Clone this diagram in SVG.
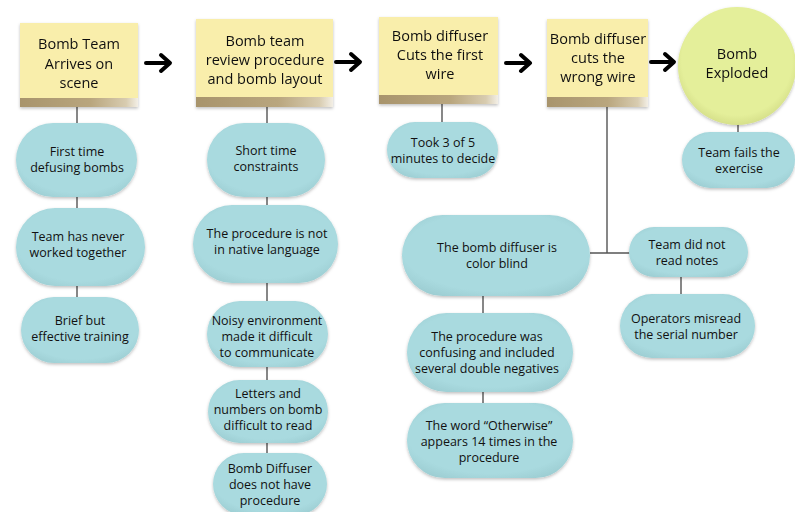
<svg xmlns="http://www.w3.org/2000/svg" width="795" height="512" viewBox="0 0 795 512">
  <defs>
    <linearGradient id="band" x1="0" y1="0" x2="1" y2="0">
      <stop offset="0" stop-color="#a8946c"/>
      <stop offset="0.6" stop-color="#b9a67e"/>
      <stop offset="0.9" stop-color="#d8ccb0"/>
      <stop offset="1" stop-color="#f3efe6"/>
    </linearGradient>
    <radialGradient id="pillShade" cx="0.5" cy="0.45" r="0.7">
      <stop offset="0.7" stop-color="#a9dadf"/>
      <stop offset="1" stop-color="#96c7cc"/>
    </radialGradient>
    <radialGradient id="circleShade" cx="0.5" cy="0.45" r="0.55">
      <stop offset="0.85" stop-color="#e4ef9a"/>
      <stop offset="1" stop-color="#d6e08a"/>
    </radialGradient>
    <filter id="shadow" x="-10%" y="-10%" width="120%" height="130%">
      <feDropShadow dx="0" dy="1.5" stdDeviation="1.5" flood-color="#000" flood-opacity="0.25"/>
    </filter>
  </defs>
  <style>
    .note { fill: #f9eeab; }
    .band { fill: url(#band); }
    .pill { fill: url(#pillShade); filter: url(#shadow); }
    .link { stroke: #555; stroke-width: 1.4; fill: none; }
    .arrow { stroke: #000; stroke-width: 4; fill: none; stroke-linecap: round; stroke-linejoin: round; }
    text { font-family: "Open Sans", "Liberation Sans", sans-serif; fill: #111; text-anchor: middle; }
    .nt { font-size: 14.5px; }
    .pt { font-size: 12.5px; }
  </style>

  <rect width="795" height="512" fill="#fff"/>

  <!-- connectors -->
  <g id="connectors">
    <path class="link" d="M77 107 V123 M77 197 V208 M77 286 V297"/>
    <path class="link" d="M267 107 V123 M267 197 V205 M267 283 V301 M267 367 V380 M267 443 V453"/>
    <path class="link" d="M442 104 V122"/>
    <path class="link" d="M607 107 V253 M590 253 H630 M681 277 V294 M483 296 V313 M483 392 V403"/>
    <path class="link" d="M738 124 V132"/>
    <path class="arrow" d="M146 63 H169 M161 55 L170 63 L161 71"/>
    <path class="arrow" d="M336 62 H359 M351 54 L360 62 L351 70"/>
    <path class="arrow" d="M506 63 H529 M521 55 L530 63 L521 71"/>
    <path class="arrow" d="M651 62 H673 M665 54 L674 62 L665 70"/>
  </g>

  <!-- step notes -->
  <g id="step1" filter="url(#shadow)">
    <rect class="note" x="20" y="23" width="118" height="84"/>
    <rect class="band" x="20" y="98" width="118" height="9"/>
    <text class="nt" x="79" y="49">Bomb Team</text>
    <text class="nt" x="79" y="69">Arrives on</text>
    <text class="nt" x="79" y="88">scene</text>
  </g>
  <g id="step2" filter="url(#shadow)">
    <rect class="note" x="196" y="19" width="137" height="88"/>
    <rect class="band" x="196" y="97" width="137" height="10"/>
    <text class="nt" x="265" y="46">Bomb team</text>
    <text class="nt" x="265" y="65">review procedure</text>
    <text class="nt" x="265" y="84">and bomb layout</text>
  </g>
  <g id="step3" filter="url(#shadow)">
    <rect class="note" x="379" y="17" width="119" height="87"/>
    <rect class="band" x="379" y="95" width="119" height="9"/>
    <text class="nt" x="440" y="41">Bomb diffuser</text>
    <text class="nt" x="440" y="60">Cuts the first</text>
    <text class="nt" x="440" y="79">wire</text>
  </g>
  <g id="step4" filter="url(#shadow)">
    <rect class="note" x="547" y="19" width="101" height="88"/>
    <rect class="band" x="547" y="97" width="101" height="10"/>
    <text class="nt" x="598" y="44">Bomb diffuser</text>
    <text class="nt" x="598" y="63">cuts the</text>
    <text class="nt" x="598" y="82">wrong wire</text>
  </g>
  <g id="outcome" filter="url(#shadow)">
    <circle cx="737" cy="66" r="59" fill="url(#circleShade)"/>
    <text class="nt" x="737" y="59">Bomb</text>
    <text class="nt" x="737" y="78">Exploded</text>
  </g>

  <!-- causes: step 1 -->
  <g id="c1a">
    <rect class="pill" x="16" y="123" width="121" height="74" rx="37"/>
    <text class="pt" x="77" y="156">First time</text>
    <text class="pt" x="77" y="172">defusing bombs</text>
  </g>
  <g id="c1b">
    <rect class="pill" x="16" y="208" width="129" height="78" rx="39"/>
    <text class="pt" x="78" y="241">Team has never</text>
    <text class="pt" x="78" y="257">worked together</text>
  </g>
  <g id="c1c">
    <rect class="pill" x="21" y="297" width="118" height="66" rx="33"/>
    <text class="pt" x="80" y="325">Brief but</text>
    <text class="pt" x="80" y="341">effective training</text>
  </g>

  <!-- causes: step 2 -->
  <g id="c2a">
    <rect class="pill" x="207" y="123" width="118" height="74" rx="37"/>
    <text class="pt" x="266" y="155">Short time</text>
    <text class="pt" x="266" y="171">constraints</text>
  </g>
  <g id="c2b">
    <rect class="pill" x="193" y="205" width="145" height="78" rx="39"/>
    <text class="pt" x="267" y="238">The procedure is not</text>
    <text class="pt" x="267" y="254">in native language</text>
  </g>
  <g id="c2c">
    <rect class="pill" x="207" y="301" width="121" height="66" rx="33"/>
    <text class="pt" x="267" y="325">Noisy environment</text>
    <text class="pt" x="267" y="341">made it difficult</text>
    <text class="pt" x="267" y="357">to communicate</text>
  </g>
  <g id="c2d">
    <rect class="pill" x="208" y="380" width="120" height="63" rx="31.5"/>
    <text class="pt" x="268" y="398">Letters and</text>
    <text class="pt" x="268" y="414">numbers on bomb</text>
    <text class="pt" x="268" y="430">difficult to read</text>
  </g>
  <g id="c2e">
    <rect class="pill" x="213" y="453" width="114" height="62" rx="31"/>
    <text class="pt" x="270" y="473">Bomb Diffuser</text>
    <text class="pt" x="270" y="489">does not have</text>
    <text class="pt" x="270" y="505">procedure</text>
  </g>

  <!-- causes: step 3 -->
  <g id="c3a">
    <rect class="pill" x="387" y="122" width="111" height="56" rx="28"/>
    <text class="pt" x="443" y="147">Took 3 of 5</text>
    <text class="pt" x="443" y="163">minutes to decide</text>
  </g>

  <!-- causes: step 4 -->
  <g id="c4a">
    <rect class="pill" x="402" y="215" width="188" height="81" rx="40.5"/>
    <text class="pt" x="497" y="252">The bomb diffuser is</text>
    <text class="pt" x="497" y="268">color blind</text>
  </g>
  <g id="c4b">
    <rect class="pill" x="407" y="313" width="166" height="79" rx="39.5"/>
    <text class="pt" x="487" y="341">The procedure was</text>
    <text class="pt" x="487" y="357">confusing and included</text>
    <text class="pt" x="487" y="373">several double negatives</text>
  </g>
  <g id="c4c">
    <rect class="pill" x="407" y="403" width="166" height="75" rx="37.5"/>
    <text class="pt" x="489" y="430">The word “Otherwise”</text>
    <text class="pt" x="489" y="446">appears 14 times in the</text>
    <text class="pt" x="489" y="462">procedure</text>
  </g>
  <g id="c4d">
    <rect class="pill" x="629" y="227" width="119" height="50" rx="25"/>
    <text class="pt" x="687" y="249">Team did not</text>
    <text class="pt" x="687" y="265">read notes</text>
  </g>
  <g id="c4e">
    <rect class="pill" x="620" y="294" width="135" height="64" rx="32"/>
    <text class="pt" x="686" y="323">Operators misread</text>
    <text class="pt" x="686" y="339">the serial number</text>
  </g>

  <!-- outcome cause -->
  <g id="c5a">
    <rect class="pill" x="682" y="132" width="113" height="56" rx="28"/>
    <text class="pt" x="739" y="157">Team fails the</text>
    <text class="pt" x="739" y="173">exercise</text>
  </g>
</svg>
